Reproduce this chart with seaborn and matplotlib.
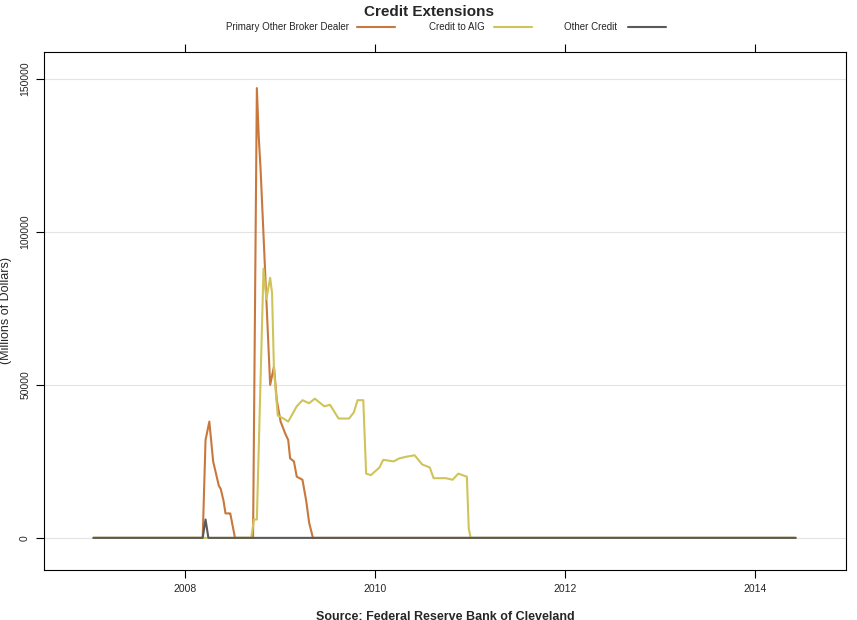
import numpy as np
import pandas as pd
import matplotlib
matplotlib.use("Agg")
import matplotlib.pyplot as plt
import seaborn as sns

# values (decimal years, millions of dollars)
pdcf_x = [2007.04, 2008.19, 2008.22, 2008.26, 2008.30, 2008.36, 2008.38, 2008.41, 2008.43, 2008.47, 2008.48, 2008.53,
          2008.72, 2008.76, 2008.78, 2008.80, 2008.90, 2008.94, 2008.97, 2009.01, 2009.06, 2009.09, 2009.11, 2009.15,
          2009.18, 2009.24, 2009.28, 2009.31, 2009.35, 2014.43]
pdcf_y = [0, 0, 32000, 38000, 25000, 17000, 16000, 12000, 8000, 8000, 8000, 0,
          0, 147000, 131000, 120000, 50000, 56000, 45000, 38000, 34000, 32000, 26000, 25000,
          20000, 19000, 12000, 5000, 0, 0]
aig_x = [2007.04, 2008.70, 2008.73, 2008.76, 2008.83, 2008.86, 2008.90, 2008.92, 2008.94, 2008.98, 2009.04, 2009.09,
         2009.18, 2009.24, 2009.31, 2009.37, 2009.47, 2009.53, 2009.62, 2009.73, 2009.78, 2009.82, 2009.88, 2009.91,
         2009.96, 2010.05, 2010.09, 2010.20, 2010.26, 2010.33, 2010.42, 2010.50, 2010.58, 2010.62, 2010.75, 2010.82,
         2010.88, 2010.97, 2010.99, 2011.01, 2014.43]
aig_y = [0, 0, 6000, 6000, 88000, 78000, 85000, 80000, 55000, 40000, 39000, 38000,
         43000, 45000, 44000, 45500, 43000, 43500, 39000, 39000, 41000, 45000, 45000, 21000,
         20500, 23000, 25500, 25000, 26000, 26500, 27000, 24000, 23000, 19500, 19500, 19000,
         21000, 20000, 3000, 0, 0]
other_x = [2007.04, 2008.19, 2008.22, 2008.25, 2014.43]
other_y = [0, 0, 6000, 0, 0]

labels = ["Primary Other Broker Dealer", "Credit to AIG", "Other Credit"]
colors = ["#C8783C", "#CFC45A", "#5A5A5A"]

df = pd.concat([
    pd.DataFrame({"year": pdcf_x, "value": pdcf_y, "series": labels[0]}),
    pd.DataFrame({"year": aig_x, "value": aig_y, "series": labels[1]}),
    pd.DataFrame({"year": other_x, "value": other_y, "series": labels[2]}),
])

sns.set_style("white")
plt.rcParams["font.family"] = ["Liberation Sans", "DejaVu Sans"]
fig = plt.figure(figsize=(8.57, 6.2), dpi=100)
ax = fig.add_axes([44 / 857, 1 - 570 / 620, 802 / 857, 518 / 620])
ax.yaxis.grid(True, color="#e3e3e3", lw=0.8)
ax.set_axisbelow(True)
sns.lineplot(data=df, x="year", y="value", hue="series", hue_order=labels,
             palette=colors, lw=1.5, ax=ax, legend=False)

ax.set_xlim(2006.52, 2014.96)
ax.set_ylim(-10500, 158800)
ax.set_xticks([2008, 2010, 2012, 2014])
ax.set_xticklabels(["2008", "2010", "2012", "2014"], fontsize=7.5)
ax.set_yticks([0, 50000, 100000, 150000])
ax.set_yticklabels(["0", "50000", "100000", "150000"], fontsize=7.5, rotation=90, va="center")
ax.tick_params(axis="both", direction="out", length=6, color="black", width=0.8,
               bottom=True, left=True, top=True, pad=4)
for s in ax.spines.values():
    s.set_color("black")
    s.set_linewidth(0.8)
ax.set_xlabel("Source: Federal Reserve Bank of Cleveland", fontsize=9, fontweight="bold", labelpad=12)
ax.set_ylabel("(Millions of Dollars)", fontsize=9, labelpad=6)

fig.text(0.5, 1 - 12 / 620, "Credit Extensions", ha="center", va="center", fontsize=11, fontweight="bold")
# legend row above plot
leg_y = 1 - 27 / 620
for (tx, lx), lab, col in zip([(349, 357), (485, 494), (617, 628)], labels, colors):
    fig.text(tx / 857, leg_y, lab, ha="right", va="center", fontsize=7)
    fig.add_artist(plt.Line2D([lx / 857, (lx + 38) / 857], [leg_y, leg_y], color=col, lw=1.5,
                              transform=fig.transFigure))

fig.savefig("out.png", dpi=100)
